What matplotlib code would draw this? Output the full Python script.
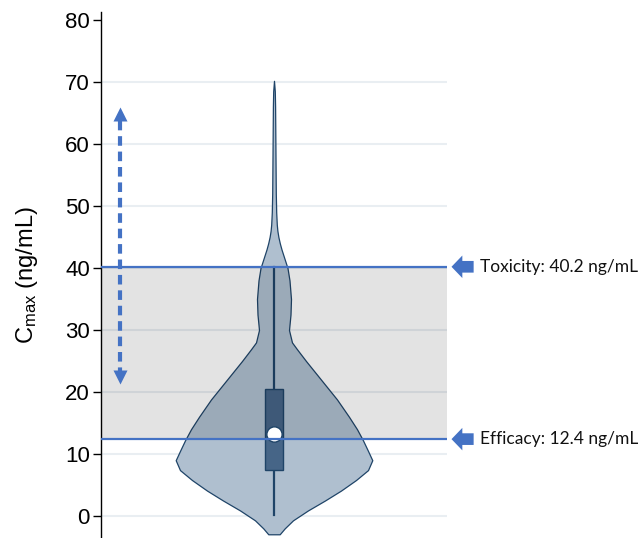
import matplotlib
matplotlib.use("Agg")
import matplotlib.pyplot as plt
import matplotlib.transforms as mtransforms

plt.rcParams["font.family"] = ["Liberation Sans", "DejaVu Sans"]
plt.rcParams["mathtext.default"] = "regular"

# Cmax distribution outline: concentration (ng/mL) and violin half-width (relative)
violin_y = [-2.95, -2.95, -2.0, -0.7, 0.9, 2.5, 4.1, 5.8, 7.4, 9.0, 10.5, 12.2, 14.0,
            16.0, 18.8, 20.0, 22.6, 25.0, 26.9, 28.0, 30.0, 32.5, 35.0, 38.0, 40.0, 41.0,
            42.0, 43.0, 44.0, 45.0, 46.0, 47.0, 49.0, 52.0, 60.0, 66.0, 68.5, 70.2]
violin_w = [0.0, 5.7, 10.7, 19, 34, 51, 67, 82, 94, 98.3, 94, 89, 83,
            75, 63, 57, 44, 32, 23, 18, 15, 16.5, 17, 15.5, 13.5, 11.5,
            9.5, 7.5, 5.8, 4.4, 3.4, 2.8, 2.2, 1.8, 1.4, 1.1, 0.8, 0.0]

# box-plot summary
q1, median, q3 = 7.4, 13.3, 20.5
whisker_lo, whisker_hi = 0.1, 40.2

TOX = 40.2
EFF = 12.4

BLUE = "#4472C4"
NAVY = "#1F4468"

fig = plt.figure(figsize=(6.44, 5.38), dpi=100)
ax = fig.add_axes([101 / 644, 0.0, 346 / 644, 1 - 12 / 538])

px = 173.0  # pixels per x unit (axes is 346 px wide, xlim -1..1)
half = [w / px for w in violin_w]
left = [-h for h in half]

ax.set_xlim(-1, 1)
ax.set_ylim(-3.55, 81.3)

# grid
for g in range(0, 80, 10):
    ax.axhline(g, color="#E9EEF2", lw=1.5, zorder=0)

# violin
ax.fill_betweenx(violin_y, left, half, facecolor="#AFBFCF", edgecolor=NAVY, lw=0.9, zorder=1)

# box and whiskers
ax.plot([0, 0], [whisker_lo, whisker_hi], color=NAVY, lw=1.6, zorder=2)
bw = 8.7 / px
ax.add_patch(plt.Rectangle((-bw, q1), 2 * bw, q3 - q1, facecolor="#466587",
                           edgecolor=NAVY, lw=1.0, zorder=2.5))

# therapeutic window shading
ax.axhspan(EFF, TOX, color="black", alpha=0.11, lw=0, zorder=3)

ax.plot([0], [median], marker="o", ms=11, mfc="white", mec=NAVY, mew=1.0, zorder=4)

# efficacy / toxicity thresholds
ax.axhline(TOX, color=BLUE, lw=1.6, zorder=5)
ax.axhline(EFF, color=BLUE, lw=1.6, zorder=5)

# dashed double arrow
ax_x = -1 + 2 * (120 - 101) / 346
ax.plot([ax_x, ax_x], [22.5, 64.8], color=BLUE, lw=3, ls=(0, (2.3, 1.4)), zorder=5)
ax.plot([ax_x], [64.9], marker="^", ms=10, color=BLUE, mec="none", zorder=5)
ax.plot([ax_x], [22.4], marker="v", ms=10, color=BLUE, mec="none", zorder=5)

# threshold call-outs
trans = mtransforms.blended_transform_factory(ax.transAxes, ax.transData)
for val, name in [(TOX, "Toxicity"), (EFF, "Efficacy")]:
    ax.annotate("", xy=(1.013, val), xycoords=trans, xytext=(1.077, val), textcoords=trans,
                arrowprops=dict(arrowstyle="simple,head_length=0.65,head_width=1.35,tail_width=0.7",
                                fc=BLUE, ec="none", mutation_scale=12, shrinkA=0, shrinkB=0),
                annotation_clip=False)
    ax.text(1.095, val, f"{name}: {val} ng/mL", transform=trans, ha="left", va="center",
            fontsize=12.5, family=["Lato", "DejaVu Sans"], color="#111111")

# axes styling
for s in ["top", "right", "bottom"]:
    ax.spines[s].set_visible(False)
ax.spines["left"].set_linewidth(1.0)
ax.set_xticks([])
ax.set_yticks(range(0, 90, 10))
ax.tick_params(axis="y", labelsize=16, length=6, width=1, pad=2)
ax.set_ylabel(r"C$_{max}$ (ng/mL)", fontsize=17, labelpad=18)

fig.savefig("out.png", dpi=100)
